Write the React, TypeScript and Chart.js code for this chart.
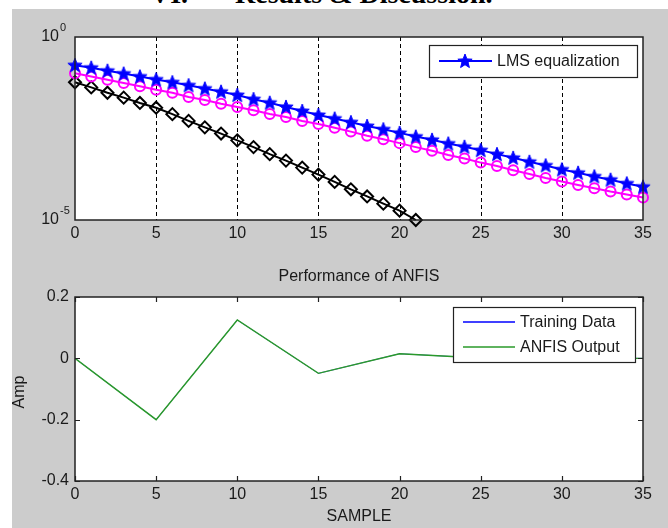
import React, { useEffect, useRef } from "react";
import { Chart, registerables } from "chart.js";

Chart.register(...registerables);

// ---------- data ----------
const SNR_DB = [0, 1, 2, 3, 4, 5, 6, 7, 8, 9, 10, 11, 12, 13, 14, 15, 16, 17, 18, 19, 20, 21, 22, 23, 24, 25, 26, 27, 28, 29, 30, 31, 32, 33, 34, 35];
const LMS_BER = [0.17, 0.145, 0.12, 0.1, 0.083, 0.069, 0.058, 0.048, 0.039, 0.032, 0.026, 0.02, 0.016, 0.0123, 0.0095, 0.0074, 0.0059, 0.0047, 0.0037, 0.003, 0.0024, 0.0019, 0.00155, 0.00123, 0.001, 0.00081, 0.00063, 0.0005, 0.00039, 0.00031, 0.00024, 0.000195, 0.000155, 0.000126, 0.0001, 0.000081];
const SECOND_BER = [0.102, 0.083, 0.068, 0.055, 0.045, 0.036, 0.03, 0.023, 0.019, 0.015, 0.0123, 0.01, 0.0079, 0.0065, 0.0051, 0.0042, 0.0033, 0.0026, 0.002, 0.0016, 0.00126, 0.00098, 0.00078, 0.0006, 0.00048, 0.00037, 0.0003, 0.00023, 0.00018, 0.00014, 0.000112, 0.000091, 0.000074, 0.00006, 0.00005, 0.000041];
const THIRD_SNR = [0, 1, 2, 3, 4, 5, 6, 7, 8, 9, 10, 11, 12, 13, 14, 15, 16, 17, 18, 19, 20, 21];
const THIRD_BER = [0.058, 0.042, 0.03, 0.022, 0.0158, 0.0117, 0.0078, 0.0051, 0.0034, 0.0023, 0.0015, 0.00098, 0.00063, 0.00042, 0.00027, 0.000174, 0.00011, 0.000069, 0.000044, 0.000028, 0.000018, 0.00001];

const SAMPLE = [0, 5, 10, 15, 20, 25, 30, 35];
const TRAINING_DATA = [0, -0.2, 0.125, -0.049, 0.015, 0.001, 0, 0];
const ANFIS_OUTPUT = [0, -0.2, 0.125, -0.049, 0.015, 0.001, 0, 0];

const X_TICKS = [0, 5, 10, 15, 20, 25, 30, 35];
const TOP_GRID_X = [5, 10, 15, 20, 25, 30];
const TOP_Y_TICKS = [1, 0.00001];
const TOP_Y_EXP = ["0", "-5"];
const BOT_Y_TICKS = [-0.4, -0.2, 0, 0.2];
const BOT_Y_LABELS = ["-0.4", "-0.2", "0", "0.2"];

const TOP_LEGEND = ["LMS equalization"];
const BOT_LEGEND = ["Training Data", "ANFIS Output"];
const BOT_TITLE = "Performance of ANFIS";
const BOT_XLABEL = "SAMPLE";
const BOT_YLABEL = "Amp";

// ---------- style ----------
const FONT = '"Liberation Sans", Arial, sans-serif';
const TXT = "#1a1a1a";
const BLUE = "#0000ff";
const MAGENTA = "#ff00ff";
const GREEN = "#2a9a2a";

function makeStar(color: string, R: number, r: number) {
  const c = document.createElement("canvas");
  const s = Math.ceil(R * 2 + 3);
  c.width = s;
  c.height = s;
  const ctx = c.getContext("2d")!;
  ctx.beginPath();
  for (let i = 0; i < 10; i++) {
    const ang = -Math.PI / 2 + (i * Math.PI) / 5;
    const rad = i % 2 === 0 ? R : r;
    ctx.lineTo(s / 2 + rad * Math.cos(ang), s / 2 + 0.5 + rad * Math.sin(ang));
  }
  ctx.closePath();
  ctx.fillStyle = color;
  ctx.fill();
  ctx.strokeStyle = color;
  ctx.lineWidth = 1;
  ctx.stroke();
  return c;
}

function drawBox(ctx: CanvasRenderingContext2D, a: any) {
  ctx.save();
  ctx.strokeStyle = "#222";
  ctx.lineWidth = 1.5;
  ctx.strokeRect(a.left, a.top, a.right - a.left, a.bottom - a.top);
  ctx.restore();
}

function fillArea(chart: any) {
  const { ctx, chartArea: a } = chart;
  ctx.save();
  ctx.fillStyle = "#fff";
  ctx.fillRect(a.left, a.top, a.right - a.left, a.bottom - a.top);
  ctx.restore();
}

const topPlugin = (star: HTMLCanvasElement) => ({
  id: "topDeco",
  beforeDraw: fillArea,
  beforeDatasetsDraw(chart: any) {
    const { ctx, chartArea: a, scales } = chart;
    ctx.save();
    ctx.strokeStyle = "#000";
    ctx.lineWidth = 1;
    ctx.setLineDash([4, 3]);
    TOP_GRID_X.forEach((v) => {
      const x = Math.round(scales.x.getPixelForValue(v)) + 0.5;
      ctx.beginPath();
      ctx.moveTo(x, a.top);
      ctx.lineTo(x, a.bottom);
      ctx.stroke();
    });
    ctx.restore();
  },
  afterDatasetsDraw(chart: any) {
    const { ctx, chartArea: a, scales } = chart;
    drawBox(ctx, a);
    ctx.save();
    ctx.fillStyle = TXT;
    ctx.font = `16px ${FONT}`;
    ctx.textBaseline = "middle";
    ctx.textAlign = "center";
    X_TICKS.forEach((v) => {
      ctx.fillText(String(v), scales.x.getPixelForValue(v), a.bottom + 14);
    });
    TOP_Y_TICKS.forEach((v, i) => {
      const y = scales.y.getPixelForValue(v);
      ctx.font = `16px ${FONT}`;
      ctx.textAlign = "right";
      ctx.fillText("10", a.left - 16, y);
      ctx.font = `11px ${FONT}`;
      ctx.textAlign = "left";
      ctx.fillText(TOP_Y_EXP[i], a.left - 15, y - 9);
    });
    // legend
    const lx = 429, ly = 45, lw = 208, lh = 32;
    ctx.fillStyle = "#fff";
    ctx.fillRect(lx, ly, lw, lh);
    ctx.strokeStyle = "#222";
    ctx.lineWidth = 1.2;
    ctx.strokeRect(lx + 0.5, ly + 0.5, lw, lh);
    const my = ly + lh / 2;
    ctx.strokeStyle = BLUE;
    ctx.lineWidth = 2;
    ctx.beginPath();
    ctx.moveTo(lx + 10, my);
    ctx.lineTo(lx + 63, my);
    ctx.stroke();
    ctx.drawImage(star, lx + 36 - star.width / 2, my - star.height / 2);
    ctx.fillStyle = TXT;
    ctx.font = `16px ${FONT}`;
    ctx.textAlign = "left";
    ctx.textBaseline = "middle";
    ctx.fillText(TOP_LEGEND[0], lx + 68, my + 1);
    ctx.restore();
  },
});

const botPlugin = {
  id: "botDeco",
  beforeDraw: fillArea,
  afterDatasetsDraw(chart: any) {
    const { ctx, chartArea: a, scales } = chart;
    drawBox(ctx, a);
    ctx.save();
    ctx.strokeStyle = "#222";
    ctx.lineWidth = 1.2;
    X_TICKS.forEach((v) => {
      const x = Math.round(scales.x.getPixelForValue(v)) + 0.5;
      ctx.beginPath();
      ctx.moveTo(x, a.top);
      ctx.lineTo(x, a.top + 5);
      ctx.moveTo(x, a.bottom);
      ctx.lineTo(x, a.bottom - 5);
      ctx.stroke();
    });
    BOT_Y_TICKS.forEach((v) => {
      const y = Math.round(scales.y.getPixelForValue(v)) + 0.5;
      ctx.beginPath();
      ctx.moveTo(a.left, y);
      ctx.lineTo(a.left + 5, y);
      ctx.moveTo(a.right, y);
      ctx.lineTo(a.right - 5, y);
      ctx.stroke();
    });
    ctx.fillStyle = TXT;
    ctx.font = `16px ${FONT}`;
    ctx.textBaseline = "middle";
    ctx.textAlign = "center";
    X_TICKS.forEach((v) => {
      ctx.fillText(String(v), scales.x.getPixelForValue(v), a.bottom + 14);
    });
    ctx.textAlign = "right";
    BOT_Y_TICKS.forEach((v, i) => {
      ctx.fillText(BOT_Y_LABELS[i], a.left - 6, scales.y.getPixelForValue(v));
    });
    ctx.textAlign = "center";
    ctx.fillText(BOT_TITLE, (a.left + a.right) / 2, a.top - 20);
    ctx.fillText(BOT_XLABEL, (a.left + a.right) / 2, a.bottom + 36);
    ctx.save();
    ctx.translate(20, (a.top + a.bottom) / 2 + 3);
    ctx.rotate(-Math.PI / 2);
    ctx.fillText(BOT_YLABEL, 0, 0);
    ctx.restore();
    // legend
    const lx = 453, ly = 307 - 260, lw = 182, lh = 55;
    ctx.fillStyle = "#fff";
    ctx.fillRect(lx, ly, lw, lh);
    ctx.strokeStyle = "#222";
    ctx.lineWidth = 1.2;
    ctx.strokeRect(lx + 0.5, ly + 0.5, lw, lh);
    const cols = [BLUE, GREEN];
    BOT_LEGEND.forEach((t, i) => {
      const y = ly + 15 + i * 25;
      ctx.strokeStyle = cols[i];
      ctx.lineWidth = 1.3;
      ctx.beginPath();
      ctx.moveTo(lx + 10, y);
      ctx.lineTo(lx + 62, y);
      ctx.stroke();
      ctx.fillStyle = TXT;
      ctx.font = `16px ${FONT}`;
      ctx.textAlign = "left";
      ctx.textBaseline = "middle";
      ctx.fillText(t, lx + 67, y + 1);
    });
    ctx.restore();
  },
};

function TopChart() {
  const ref = useRef<HTMLCanvasElement>(null);
  useEffect(() => {
    const star = makeStar(BLUE, 7.5, 3.2);
    const chart = new Chart(ref.current!, {
      type: "line",
      data: {
        datasets: [
          {
            label: TOP_LEGEND[0],
            data: SNR_DB.map((x, i) => ({ x, y: LMS_BER[i] })),
            borderColor: BLUE,
            borderWidth: 2,
            pointStyle: star as any,
            pointRadius: 7,
            clip: false as any,
          },
          {
            label: "second",
            data: SNR_DB.map((x, i) => ({ x, y: SECOND_BER[i] })),
            borderColor: MAGENTA,
            backgroundColor: "rgba(0,0,0,0)",
            borderWidth: 2,
            pointStyle: "circle",
            pointRadius: 5,
            pointBorderWidth: 2,
            clip: false as any,
          },
          {
            label: "third",
            data: THIRD_SNR.map((x, i) => ({ x, y: THIRD_BER[i] })),
            borderColor: "#000",
            backgroundColor: "rgba(0,0,0,0)",
            borderWidth: 2,
            pointStyle: "rectRot",
            pointRadius: 6,
            pointBorderWidth: 2,
            clip: false as any,
          },
        ],
      },
      options: {
        animation: false,
        responsive: false,
        events: [],
        layout: { padding: { top: 37, left: 75, right: 25, bottom: 40 } },
        plugins: { legend: { display: false }, tooltip: { enabled: false } },
        scales: {
          x: { type: "linear", min: 0, max: 35, display: false },
          y: { type: "logarithmic", min: 0.00001, max: 1, display: false },
        },
      },
      plugins: [topPlugin(star)],
    });
    return () => chart.destroy();
  }, []);
  return <canvas ref={ref} width={668} height={260} style={{ position: "absolute", left: 0, top: 0 }} />;
}

function BottomChart() {
  const ref = useRef<HTMLCanvasElement>(null);
  useEffect(() => {
    const chart = new Chart(ref.current!, {
      type: "line",
      data: {
        datasets: [
          {
            label: BOT_LEGEND[1],
            data: SAMPLE.map((x, i) => ({ x, y: ANFIS_OUTPUT[i] })),
            borderColor: GREEN,
            borderWidth: 1.4,
            pointRadius: 0,
          },
          {
            label: BOT_LEGEND[0],
            data: SAMPLE.map((x, i) => ({ x, y: TRAINING_DATA[i] })),
            borderColor: BLUE,
            borderWidth: 0.6,
            pointRadius: 0,
          },
        ],
      },
      options: {
        animation: false,
        responsive: false,
        events: [],
        layout: { padding: { top: 37, left: 75, right: 25, bottom: 47 } },
        plugins: { legend: { display: false }, tooltip: { enabled: false } },
        scales: {
          x: { type: "linear", min: 0, max: 35, display: false },
          y: { type: "linear", min: -0.4, max: 0.2, display: false },
        },
      },
      plugins: [botPlugin],
    });
    return () => chart.destroy();
  }, []);
  return <canvas ref={ref} width={668} height={268} style={{ position: "absolute", left: 0, top: 260 }} />;
}

export default function App() {
  return (
    <div style={{ position: "fixed", left: 0, top: 0, width: 668, height: 528, background: "#fff", overflow: "hidden" }}>
      <div
        style={{
          position: "absolute",
          left: 0,
          top: -22,
          width: 668,
          font: 'bold 28px "Liberation Serif", "Times New Roman", serif',
          color: "#000",
          whiteSpace: "pre",
        }}
      >
        <span style={{ position: "absolute", left: 150 }}>VI.</span>
        <span style={{ position: "absolute", left: 235 }}>Results &amp; Discussion.</span>
      </div>
      <div style={{ position: "absolute", left: 12, top: 9, width: 656, height: 519, background: "#cccccc" }} />
      <TopChart />
      <BottomChart />
    </div>
  );
}
